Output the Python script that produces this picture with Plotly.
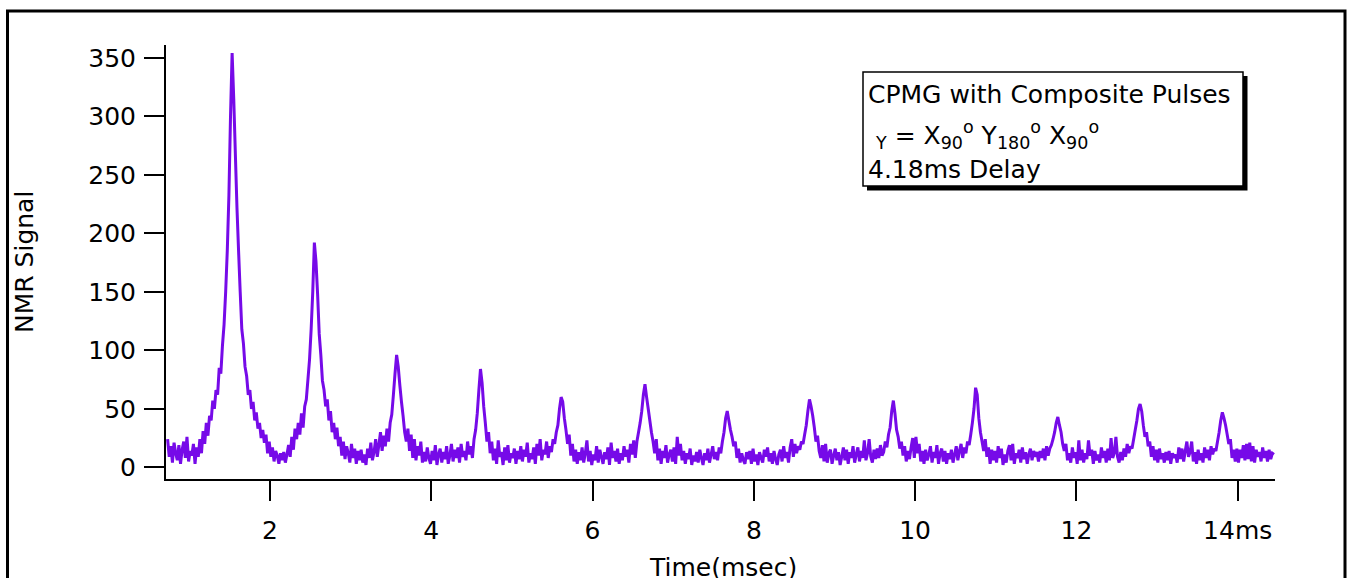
import plotly.graph_objects as go

# ---- data ----
t_start_ms = 0.73      # first sample time (msec)
t_step_ms = 0.02       # sample spacing (msec)
nmr_signal = [
    24, 9, 18, 4, 21, 12, 6, 19, 3, 15, 22, 8, 26, 5, 14, 10, 20, 3, 17, 9,
    24, 12, 31, 20, 38, 27, 44, 40, 57, 50, 66, 62, 85, 80, 104, 122, 150, 185, 232, 300,
    354, 315, 268, 222, 185, 150, 118, 106, 86, 78, 62, 66, 50, 56, 40, 47, 33, 38, 25, 32,
    21, 28, 12, 22, 9, 17, 5, 14, 10, 3, 12, 6, 13, 4, 11, 19, 9, 26, 15, 33,
    24, 38, 28, 46, 34, 52, 58, 75, 92, 118, 150, 192, 176, 148, 114, 96, 74, 66, 52, 58,
    40, 48, 30, 38, 24, 34, 18, 26, 10, 22, 7, 18, 12, 4, 20, 8, 16, 3, 14, 6,
    15, 4, 11, 2, 16, 8, 21, 6, 13, 24, 9, 19, 30, 14, 27, 18, 33, 22, 38, 45,
    62, 80, 96, 86, 70, 56, 44, 30, 22, 33, 14, 28, 8, 24, 6, 18, 10, 22, 4, 13,
    5, 17, 8, 3, 14, 6, 19, 2, 11, 16, 4, 13, 7, 18, 3, 10, 20, 5, 15, 8,
    17, 4, 20, 9, 14, 6, 22, 11, 18, 8, 24, 32, 46, 66, 84, 72, 52, 38, 22, 30,
    12, 22, 6, 16, 3, 23, 9, 13, 2, 17, 6, 19, 4, 12, 8, 16, 3, 14, 7, 18,
    5, 15, 9, 21, 4, 12, 7, 17, 3, 20, 10, 24, 6, 15, 11, 22, 8, 18, 13, 24,
    20, 30, 36, 50, 60, 56, 42, 32, 20, 28, 10, 20, 5, 15, 3, 13, 6, 17, 4, 12,
    23, 5, 14, 2, 11, 6, 18, 4, 15, 9, 3, 13, 7, 17, 2, 21, 8, 14, 5, 16,
    3, 12, 6, 18, 9, 15, 4, 20, 11, 23, 8, 22, 30, 38, 48, 62, 71, 60, 50, 40,
    30, 22, 12, 24, 6, 16, 3, 14, 8, 19, 4, 11, 15, 5, 17, 3, 26, 10, 20, 6,
    14, 3, 12, 7, 16, 2, 10, 5, 13, 4, 15, 8, 2, 12, 6, 16, 4, 11, 18, 7,
    13, 6, 17, 12, 22, 30, 42, 48, 40, 32, 26, 18, 22, 8, 16, 4, 12, 6, 3, 13,
    7, 14, 3, 16, 5, 11, 2, 13, 8, 4, 15, 9, 17, 5, 12, 3, 14, 7, 2, 11,
    15, 5, 18, 8, 13, 4, 17, 24, 9, 20, 12, 18, 15, 22, 20, 28, 36, 48, 58, 52,
    44, 34, 22, 27, 14, 8, 19, 5, 20, 4, 12, 15, 3, 10, 16, 6, 13, 2, 9, 17,
    6, 15, 3, 13, 8, 18, 4, 11, 17, 5, 14, 8, 23, 6, 12, 24, 9, 4, 15, 7,
    16, 8, 19, 10, 13, 22, 17, 28, 34, 48, 57, 46, 32, 26, 16, 22, 10, 18, 5, 14,
    7, 17, 25, 8, 26, 12, 20, 5, 14, 3, 15, 6, 11, 18, 4, 13, 8, 19, 3, 12,
    16, 5, 14, 3, 12, 7, 15, 4, 11, 18, 6, 14, 20, 8, 17, 12, 22, 19, 28, 38,
    50, 68, 62, 42, 30, 22, 14, 24, 9, 17, 3, 15, 6, 14, 4, 18, 8, 16, 2, 11,
    4, 14, 19, 6, 20, 3, 12, 8, 15, 4, 17, 7, 13, 3, 11, 16, 6, 14, 9, 13,
    5, 14, 8, 16, 6, 18, 10, 16, 19, 24, 30, 38, 43, 36, 30, 20, 14, 20, 6, 12,
    4, 17, 8, 13, 3, 23, 6, 15, 4, 12, 7, 23, 10, 15, 3, 14, 6, 11, 4, 17,
    8, 14, 4, 16, 6, 25, 8, 12, 26, 9, 4, 13, 6, 16, 9, 20, 12, 18, 16, 24,
    32, 40, 50, 54, 48, 36, 26, 30, 18, 22, 9, 18, 6, 15, 4, 16, 7, 12, 4, 13,
    6, 14, 3, 12, 8, 11, 4, 17, 7, 16, 5, 14, 22, 9, 13, 22, 5, 13, 3, 15,
    6, 12, 4, 17, 8, 15, 6, 18, 11, 16, 14, 22, 30, 40, 47, 42, 36, 28, 20, 24,
    8, 15, 5, 16, 4, 15, 8, 19, 6, 20, 7, 21, 5, 18, 4, 15, 9, 13, 5, 17,
    8, 14, 5, 15, 7, 12, 11,
]
x_tick_values = [2, 4, 6, 8, 10, 12, 14]
x_tick_labels = ["2", "4", "6", "8", "10", "12", "14ms"]
y_tick_values = [0, 50, 100, 150, 200, 250, 300, 350]
legend_lines = [
    "CPMG with Composite Pulses",
    "<sub>Y</sub> = X<sub>90</sub><sup>o</sup> Y<sub>180</sub><sup>o</sup> X<sub>90</sub><sup>o</sup>",
    "4.18ms Delay",
]
x_title = "Time(msec)"
y_title = "NMR Signal"

# ---- layout geometry (pixels) ----
W, H = 1351, 578
L, R, T, B = 166, 1275, 45, 479
PW, PH = R - L, B - T


def px(xp):
    return (xp - L) / PW


def py(yp):
    return (B - yp) / PH


FONT = "DejaVu Sans"
FS = 25
LINE_COLOR = "rgb(118,10,232)"

fig = go.Figure()
fig.add_trace(go.Scatter(
    x0=t_start_ms, dx=t_step_ms, y=nmr_signal,
    mode="lines", line=dict(color=LINE_COLOR, width=3, simplify=False),
    showlegend=False, hoverinfo="skip",
))

axis_common = dict(
    showline=True, linecolor="black", linewidth=2,
    ticks="outside", ticklen=20, tickwidth=2, tickcolor="black",
    showgrid=False, zeroline=False,
    tickfont=dict(family=FONT, size=FS, color="black"),
)

fig.update_xaxes(
    range=[0.71, 14.463], tickmode="array",
    tickvals=x_tick_values, ticktext=x_tick_labels,
    ticklabelstandoff=8, **axis_common,
)
fig.update_yaxes(
    range=[-10.0, 360.9], tickmode="array",
    tickvals=y_tick_values, ticklabelstandoff=3, **axis_common,
)

shapes = [
    # outer frame
    dict(type="rect", xref="paper", yref="paper",
         x0=px(7.5), x1=px(1345), y0=py(620), y1=py(11),
         line=dict(color="black", width=3), fillcolor="rgba(0,0,0,0)", layer="below"),
    # legend box shadow
    dict(type="rect", xref="paper", yref="paper",
         x0=px(867), x1=px(1247.5), y0=py(190.5), y1=py(76),
         line=dict(color="black", width=0), fillcolor="black"),
    # legend box
    dict(type="rect", xref="paper", yref="paper",
         x0=px(863), x1=px(1243), y0=py(186), y1=py(72),
         line=dict(color="black", width=1.5), fillcolor="white"),
]

annotations = [
    dict(text=legend_lines[0], xref="paper", yref="paper", x=px(866), y=py(94),
         xanchor="left", yanchor="middle", showarrow=False,
         font=dict(family=FONT, size=FS, color="black")),
    dict(text=legend_lines[1], xref="paper", yref="paper", x=px(873), y=py(135),
         xanchor="left", yanchor="middle", showarrow=False,
         font=dict(family=FONT, size=FS, color="black")),
    dict(text=legend_lines[2], xref="paper", yref="paper", x=px(866), y=py(169),
         xanchor="left", yanchor="middle", showarrow=False,
         font=dict(family=FONT, size=FS, color="black")),
    dict(text=x_title, xref="paper", yref="paper", x=px(722.5), y=py(567),
         xanchor="center", yanchor="middle", showarrow=False,
         font=dict(family=FONT, size=FS, color="black")),
    dict(text=y_title, xref="paper", yref="paper", x=px(24), y=py(262),
         xanchor="center", yanchor="middle", textangle=-90, showarrow=False,
         font=dict(family=FONT, size=FS, color="black")),
]

fig.update_layout(
    width=W, height=H,
    margin=dict(l=L, r=W - R, t=T, b=H - B, pad=0),
    paper_bgcolor="white", plot_bgcolor="white",
    shapes=shapes, annotations=annotations,
    showlegend=False,
)

fig.write_html("out.html", include_plotlyjs=True, config={"displayModeBar": False})
